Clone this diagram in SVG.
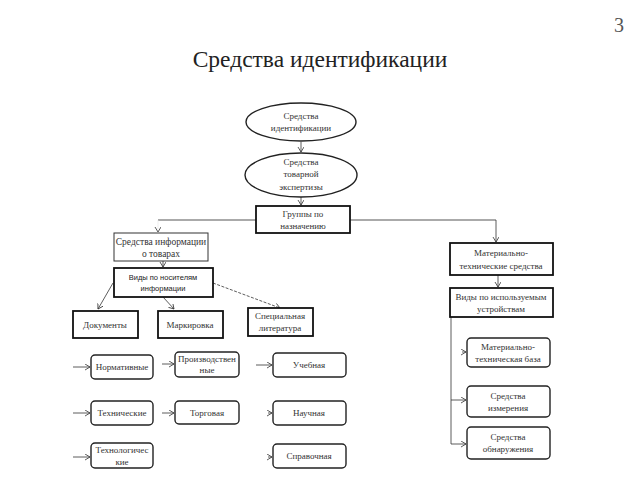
<svg xmlns="http://www.w3.org/2000/svg" width="640" height="480" viewBox="0 0 640 480">
<defs>
<style>
.t{font-family:'Liberation Serif','DejaVu Serif','Times New Roman',Times,serif;font-size:9px;fill:#333;text-anchor:middle}
.s{font-family:'Liberation Sans',Arial,sans-serif;font-size:7.5px;fill:#222;text-anchor:middle}
.thick{fill:#fff;stroke:#111;stroke-width:1.8}
.thin{fill:#fff;stroke:#333;stroke-width:1}
.rnd{fill:#fff;stroke:#222;stroke-width:1.4}
.c{fill:none;stroke:#333;stroke-width:0.8}
.g{fill:none;stroke:#aaa;stroke-width:2}
</style>
<marker id="a" markerWidth="8" markerHeight="8" refX="5" refY="3" orient="auto" markerUnits="userSpaceOnUse">
<path d="M0,0 L5,3 L0,6" fill="none" stroke="#333" stroke-width="0.8"/>
</marker>
</defs>
<rect width="640" height="480" fill="#fff"/>
<text x="320" y="67" font-family="Liberation Serif, DejaVu Serif, serif" font-size="23.5" fill="#222" text-anchor="middle">Средства идентификации</text>
<text x="619" y="32" font-family="Liberation Serif, DejaVu Serif, serif" font-size="20" fill="#555" text-anchor="middle">3</text>

<g id="connectors">
<line class="c" x1="301" y1="142" x2="301" y2="152" marker-end="url(#a)"/>
<line class="c" x1="301" y1="197" x2="301" y2="205" marker-end="url(#a)"/>
<polyline class="g" points="158,220 256,220"/>
<polyline class="g" points="350,220 496,220"/>
<line stroke="#e4e4e4" stroke-width="0.6" x1="158" y1="220" x2="158" y2="232" marker-end="url(#a)"/>
<polyline class="c" points="496,220 496,242" marker-end="url(#a)"/>
<line class="c" x1="163" y1="261" x2="163" y2="267" marker-end="url(#a)"/>
<line class="c" x1="498" y1="275" x2="498" y2="287" marker-end="url(#a)"/>
<line class="c" x1="113" y1="283" x2="98" y2="309" marker-end="url(#a)"/>
<line class="c" x1="163" y1="297" x2="174" y2="309" marker-end="url(#a)"/>
<line class="c" stroke-dasharray="3,1.5" x1="213" y1="283" x2="280" y2="308" marker-end="url(#a)"/>
<line class="c" x1="73" y1="367" x2="90" y2="367" marker-end="url(#a)"/>
<line class="c" x1="162" y1="364" x2="174" y2="364" marker-end="url(#a)"/>
<line class="c" x1="256" y1="365" x2="272" y2="365" marker-end="url(#a)"/>
<line class="c" x1="73" y1="413" x2="90" y2="413" marker-end="url(#a)"/>
<line class="c" x1="162" y1="413" x2="174" y2="413" marker-end="url(#a)"/>
<line class="c" stroke="#fff" x1="268" y1="413" x2="272" y2="413" marker-end="url(#a)"/>
<line class="c" x1="73" y1="457" x2="90" y2="457" marker-end="url(#a)"/>
<line class="c" stroke="#fff" x1="268" y1="457" x2="272" y2="457" marker-end="url(#a)"/>
<polyline class="c" points="451,317 451,444 466,444" marker-end="url(#a)"/>
<line class="c" x1="451" y1="400" x2="466" y2="400" marker-end="url(#a)"/>
<line class="c" stroke="#fff" x1="462" y1="352" x2="466" y2="352" marker-end="url(#a)"/>
</g>

<g id="n-ident">
<ellipse class="rnd" cx="301" cy="122" rx="55" ry="19"/>
<text class="t" x="301" y="119">Средства</text>
<text class="t" x="301" y="131">идентификации</text>
</g>
<g id="n-expert">
<ellipse class="rnd" cx="301" cy="175" rx="56" ry="22"/>
<text class="t" x="301" y="165">Средства</text>
<text class="t" x="301" y="177">товарной</text>
<text class="t" x="301" y="190">экспертизы</text>
</g>
<g id="n-groups">
<rect class="thick" x="256" y="206" width="94" height="27"/>
<text class="t" x="303" y="217">Группы по</text>
<text class="t" x="303" y="229">назначению</text>
</g>
<g id="n-info">
<rect class="thin" x="114" y="233" width="94" height="28"/>
<text class="t" x="161" y="245" style="font-size:9.5px">Средства информации</text>
<text class="t" x="161" y="257" style="font-size:9.5px">о товарах</text>
</g>
<g id="n-carriers">
<rect class="thick" x="114" y="268" width="99" height="29"/>
<text class="s" x="163" y="280">Виды по носителям</text>
<text class="s" x="163" y="291">информации</text>
</g>
<g id="n-docs">
<rect class="thick" x="73" y="311" width="65" height="27"/>
<text class="t" x="105" y="328">Документы</text>
</g>
<g id="n-mark">
<rect class="thick" x="158" y="311" width="65" height="27"/>
<text class="t" x="190" y="328">Маркировка</text>
</g>
<g id="n-spec">
<rect class="thick" x="248" y="308" width="65" height="28"/>
<text class="t" x="280" y="319">Специальная</text>
<text class="t" x="280" y="331">литература</text>
</g>
<g id="n-norm">
<rect class="rnd" x="91" y="355" width="62" height="24" rx="4"/>
<text class="t" x="122" y="370">Нормативные</text>
</g>
<g id="n-prod">
<rect class="rnd" x="175" y="352" width="64" height="25" rx="4"/>
<text class="t" x="207" y="362">Производствен</text>
<text class="t" x="207" y="373">ные</text>
</g>
<g id="n-ucheb">
<rect class="rnd" x="273" y="353" width="73" height="24" rx="4"/>
<text class="t" x="309" y="368">Учебная</text>
</g>
<g id="n-tech">
<rect class="rnd" x="91" y="401" width="62" height="24" rx="4"/>
<text class="t" x="122" y="416">Технические</text>
</g>
<g id="n-torg">
<rect class="rnd" x="175" y="401" width="64" height="23" rx="4"/>
<text class="t" x="207" y="416">Торговая</text>
</g>
<g id="n-nauch">
<rect class="rnd" x="273" y="401" width="73" height="24" rx="4"/>
<text class="t" x="309" y="416">Научная</text>
</g>
<g id="n-technol">
<rect class="rnd" x="91" y="443" width="62" height="25" rx="4"/>
<text class="t" x="122" y="453">Технологичес</text>
<text class="t" x="122" y="465">кие</text>
</g>
<g id="n-sprav">
<rect class="rnd" x="273" y="444" width="73" height="24" rx="4"/>
<text class="t" x="309" y="459">Справочная</text>
</g>
<g id="n-mat">
<rect class="thick" x="450" y="243" width="103" height="32"/>
<text class="t" x="501" y="256">Материально-</text>
<text class="t" x="501" y="269">технические средства</text>
</g>
<g id="n-devices">
<rect class="thick" x="450" y="288" width="103" height="29"/>
<text class="t" x="501" y="300">Виды по используемым</text>
<text class="t" x="501" y="312">устройствам</text>
</g>
<g id="n-base">
<rect class="rnd" x="467" y="338" width="83" height="29" rx="4"/>
<text class="t" x="508" y="350">Материально-</text>
<text class="t" x="508" y="362">техническая база</text>
</g>
<g id="n-meas">
<rect class="rnd" x="467" y="386" width="83" height="31" rx="4"/>
<text class="t" x="508" y="399">Средства</text>
<text class="t" x="508" y="411">измерения</text>
</g>
<g id="n-detect">
<rect class="rnd" x="467" y="427" width="83" height="32" rx="4"/>
<text class="t" x="508" y="440">Средства</text>
<text class="t" x="508" y="452">обнаружения</text>
</g>
</svg>
